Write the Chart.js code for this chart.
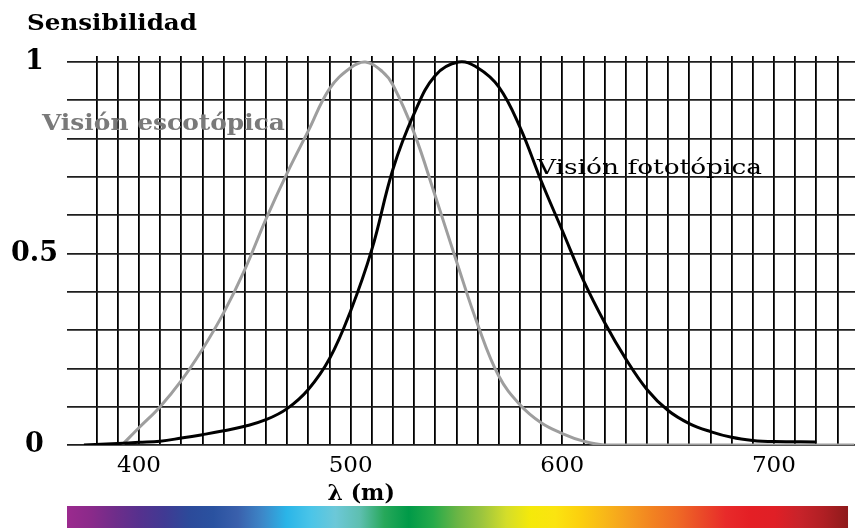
<!DOCTYPE html>
<html>
<head>
<meta charset="utf-8">
<script src="https://cdn.jsdelivr.net/npm/chart.js@4.4.0/dist/chart.umd.min.js"></script>
<style>
  html, body { margin: 0; padding: 0; background: #ffffff; }
  #wrap { width: 858px; height: 528px; position: relative; }
</style>
</head>
<body>
<div id="wrap"><canvas id="c"></canvas></div>
<script>
// ---- Data ----
// Scotopic (night) vision sensitivity, grey curve
const scotopicWavelengths = [392, 400, 410, 420, 430, 440, 450, 460, 470, 480, 490, 500, 507, 515, 520, 530, 540, 550, 560, 570, 580, 590, 600, 610, 620, 650, 700, 738];
const scotopicValues      = [0, 0.045, 0.10, 0.168, 0.25, 0.345, 0.458, 0.59, 0.71, 0.82, 0.93, 0.985, 1.0, 0.975, 0.94, 0.815, 0.65, 0.48, 0.315, 0.18, 0.105, 0.058, 0.03, 0.01, 0.0, 0.0, 0.0, 0.0];

// Photopic (day) vision sensitivity, black curve
const photopicWavelengths = [374, 390, 400, 410, 420, 430, 440, 450, 460, 470, 480, 490, 500, 510, 520, 530, 540, 551, 560, 570, 580, 590, 600, 610, 620, 630, 640, 650, 660, 670, 680, 690, 700, 720];
const photopicValues      = [0, 0.004, 0.007, 0.010, 0.018, 0.027, 0.037, 0.049, 0.066, 0.095, 0.145, 0.225, 0.35, 0.51, 0.72, 0.865, 0.965, 1.0, 0.985, 0.935, 0.83, 0.69, 0.56, 0.43, 0.32, 0.225, 0.145, 0.09, 0.056, 0.035, 0.02, 0.012, 0.009, 0.008];

// Axis ticks / labels
const xGridTicks = [];
for (let w = 380; w <= 730; w += 10) xGridTicks.push(w);
const xLabelledTicks = [400, 500, 600, 700];
const yGridTicks = [0, 0.1, 0.2, 0.3, 0.4, 0.5, 0.6, 0.7, 0.8, 0.9, 1];
const yLabelledTicks = { 0: '0', 0.5: '0.5', 1: '1' };

// Texts
const yTitle = 'Sensibilidad';
const xTitle = 'λ (m)';
const scotopicLabel = 'Visión escotópica';
const photopicLabel = 'Visión fototópica';

// Spectrum colour strip (violet -> red)
const spectrumColors = ['#9b2a8e', '#8a2a8a', '#6e2d8a', '#55318e', '#403a93', '#2c4a9a', '#2a52a0', '#3a60ac', '#3d87c8', '#2ab5e8', '#4bc5e8', '#6cc8d8', '#5ebfb0', '#27a85a', '#009a48', '#25aa4a', '#6ab545', '#9cc53e', '#d4dd2a', '#f5e90a', '#fbe410', '#fcd00e', '#f8b818', '#f59d1f', '#f28221', '#ef6a25', '#ea4a28', '#e82a2a', '#e41f25', '#e01f26', '#c8232a', '#b01f24', '#8e1a1b'];
const spectrumFrom = 366;
const spectrumTo = 735;

const toPoints = (xs, ys) => xs.map((x, i) => ({ x: x, y: ys[i] }));

function stretchedText(ctx, text, x, y, font, color, targetWidth) {
  ctx.save();
  ctx.font = font;
  ctx.fillStyle = color;
  ctx.textAlign = 'left';
  ctx.textBaseline = 'alphabetic';
  const w = ctx.measureText(text).width;
  const sx = targetWidth / w;
  ctx.translate(x, y);
  ctx.scale(sx, 1);
  ctx.fillText(text, 0, 0);
  ctx.restore();
}

const annotationPlugin = {
  id: 'annotations',
  afterDraw(chart) {
    const ctx = chart.ctx;
    const xs = chart.scales.x;
    ctx.save();
    // Title
    stretchedText(ctx, yTitle, 27, 30, 'bold 23px "DejaVu Serif"', '#000', 170);
    // Curve labels
    stretchedText(ctx, scotopicLabel, 42, 130, 'bold 23px "DejaVu Serif"', '#7a7a7a', 243);
    stretchedText(ctx, photopicLabel, 537, 174, '21px "DejaVu Serif"', '#000', 225);
    // X title
    ctx.fillStyle = '#000';
    ctx.textAlign = 'center';
    ctx.textBaseline = 'alphabetic';
    ctx.font = 'bold 22px "DejaVu Serif"';
    ctx.fillText(xTitle, xs.getPixelForValue(505), 500);
    // Spectrum strip
    const x0 = xs.getPixelForValue(spectrumFrom);
    const x1 = xs.getPixelForValue(spectrumTo);
    const grad = ctx.createLinearGradient(x0, 0, x1, 0);
    const n = spectrumColors.length;
    spectrumColors.forEach((c, i) => grad.addColorStop(i / (n - 1), c));
    ctx.fillStyle = grad;
    ctx.fillRect(x0, 506, x1 - x0, 22);
    ctx.restore();
  }
};

new Chart(document.getElementById('c'), {
  type: 'line',
  data: {
    datasets: [
      {
        label: photopicLabel,
        data: toPoints(photopicWavelengths, photopicValues),
        borderColor: '#000000',
        borderWidth: 3,
        pointRadius: 0,
        tension: 0.4,
        fill: false
      },
      {
        label: scotopicLabel,
        data: toPoints(scotopicWavelengths, scotopicValues),
        borderColor: '#9e9e9e',
        borderWidth: 3,
        pointRadius: 0,
        tension: 0.4,
        fill: false
      }
    ]
  },
  options: {
    responsive: true,
    maintainAspectRatio: false,
    animation: false,
    layout: { padding: { top: 56, left: 0, right: 3, bottom: 0 } },
    plugins: { legend: { display: false }, tooltip: { enabled: false }, title: { display: false } },
    scales: {
      x: {
        type: 'linear',
        min: 366,
        max: 738.3,
        afterBuildTicks: (s) => { s.ticks = xGridTicks.map(v => ({ value: v })); },
        afterFit: (s) => { s.height = 83; },
        border: { display: false },
        grid: { color: '#000000', lineWidth: 1.8, drawTicks: false },
        ticks: {
          autoSkip: false,
          maxRotation: 0,
          padding: 7,
          color: '#000',
          font: { family: '"DejaVu Serif"', size: 23 },
          callback: (v) => (xLabelledTicks.includes(v) ? String(v) : '')
        }
      },
      y: {
        type: 'linear',
        min: 0,
        max: 1.0157,
        afterBuildTicks: (s) => { s.ticks = yGridTicks.map(v => ({ value: v })); },
        afterFit: (s) => { s.width = 67; },
        border: { display: false },
        grid: { color: '#1e1e1e', lineWidth: 1.8, drawTicks: false },
        ticks: {
          autoSkip: false,
          padding: 9,
          crossAlign: 'center',
          color: '#000',
          font: { family: '"DejaVu Serif"', size: 27, weight: 'bold' },
          callback: (v) => (yLabelledTicks[v] !== undefined ? yLabelledTicks[v] : '')
        }
      }
    }
  },
  plugins: [annotationPlugin]
});
</script>
</body>
</html>
